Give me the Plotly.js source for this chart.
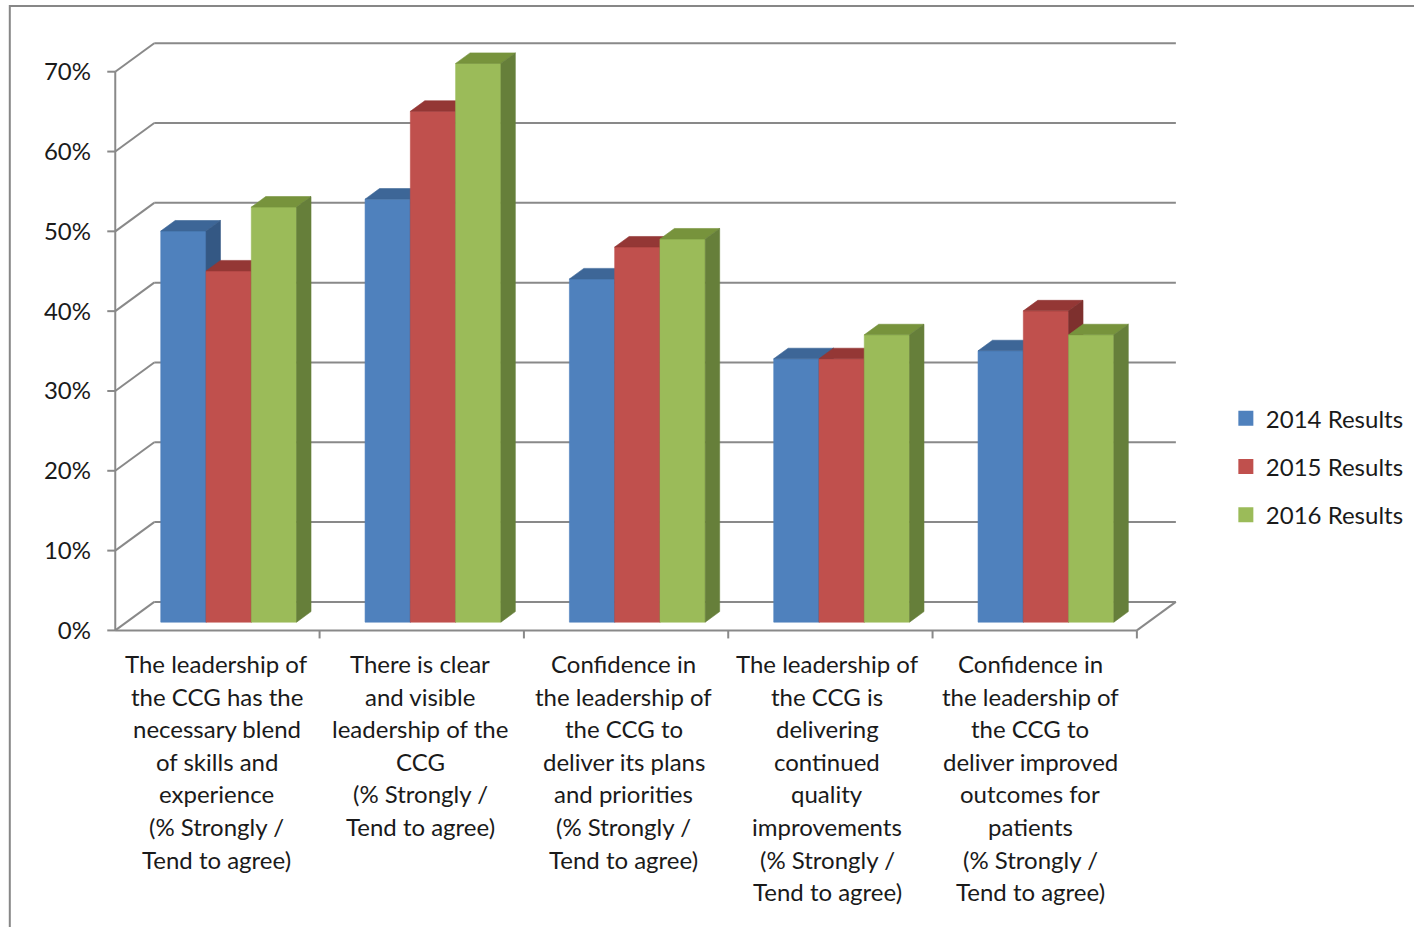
<!DOCTYPE html>
<html>
<head>
<meta charset="utf-8">
<script src="https://cdn.plot.ly/plotly-3.0.1.min.js"></script>
<style>
  html, body { margin: 0; padding: 0; background: #ffffff; }
  #chart { width: 1414px; height: 927px; }
</style>
</head>
<body>
<div id="chart"></div>
<script>
// ---- data ----
const categories = [
  "The leadership of\nthe CCG has the\nnecessary blend\nof skills and\nexperience\n(% Strongly /\nTend to agree)",
  "There is clear\nand visible\nleadership of the\nCCG\n(% Strongly /\nTend to agree)",
  "Confidence in\nthe leadership of\nthe CCG to\ndeliver its plans\nand priorities\n(% Strongly /\nTend to agree)",
  "The leadership of\nthe CCG is\ndelivering\ncontinued\nquality\nimprovements\n(% Strongly /\nTend to agree)",
  "Confidence in\nthe leadership of\nthe CCG to\ndeliver improved\noutcomes for\npatients\n(% Strongly /\nTend to agree)"
];
const seriesNames = ["2014 Results", "2015 Results", "2016 Results"];
const results2014 = [49, 53, 43, 33, 34];
const results2015 = [44, 64, 47, 33, 39];
const results2016 = [52, 70, 48, 36, 36];
const yTickValues = [0, 10, 20, 30, 40, 50, 60, 70];
const yTickLabels = ["0%", "10%", "20%", "30%", "40%", "50%", "60%", "70%"];

const seriesValues = [results2014, results2015, results2016];

// face colours per series: front, top, side
const frontColors = ["#4F81BD", "#C0504D", "#9BBB59"];
const topColors   = ["#3D6697", "#943735", "#77933C"];
const sideColors  = ["#345884", "#7E302E", "#667F3A"];

// ---- geometry of the pseudo-3D box (axis units: categories / percent) ----
const W = 1414, H = 927;
const PX_CAT = 204.4, PX_PCT = 7.976;   // pixels per category, per percent
const X0PX = 115, Y0PX = 630;          // pixel position of the front origin
const DX = 39 / PX_CAT;                // full depth of the box along x
const DY = 28.5 / PX_PCT;              // full depth of the box along y
const GAP = 0.1673, BW = 0.2216;       // side gap in a category, bar width
const F0 = 0.29, F1 = 0.66;            // bar front / back as a share of depth
const LABEL_START = 0.4966, LABEL_STEP = 0.9956;  // category label centres

const XMIN = -0.06, XMAX = 5 + DX + 0.03;
const YMIN = -1.2,  YMAX = 70 + DY + 0.4;
const ml = X0PX + XMIN * PX_CAT;
const mr = W - (X0PX + XMAX * PX_CAT);
const mt = Y0PX - YMAX * PX_PCT;
const mb = H - (Y0PX - YMIN * PX_PCT);
const pw = W - ml - mr, ph = H - mt - mb;
const plotBottomPx = H - mb;

const GRID = "#898989";
const TEXT = "#1a1a1a";
const FONT = "Lato, 'Open Sans', sans-serif";

// ---- walls, floor, axis lines and ticks ----
const gx = [], gy = [];
function seg(x1, y1, x2, y2) { gx.push(x1, x2, null); gy.push(y1, y2, null); }
yTickValues.forEach(v => {
  seg(DX, v + DY, 5 + DX, v + DY);          // back wall gridline
  seg(0, v, DX, v + DY);                    // side wall gridline
  seg(-8 / PX_CAT, v, 0, v);                // value-axis tick
});
seg(0, 0, 0, yTickValues[yTickValues.length - 1]);   // value axis
seg(0, 0, 5, 0);                                     // floor front edge
seg(5, 0, 5 + DX, DY);                               // floor right edge
for (let k = 1; k <= categories.length; k++) seg(k, 0, k, -8 / PX_PCT);  // category ticks

const traces = [{
  type: "scatter", mode: "lines", x: gx, y: gy,
  line: { color: GRID, width: 2 }, hoverinfo: "skip", showlegend: false
}];

// ---- bar faces: each series drawn front, top, side, series by series ----
const base = F0 * DY;
const ddx = (F1 - F0) * DX, ddy = (F1 - F0) * DY;
seriesValues.forEach((vals, s) => {
  const fx = [], fy = [], tx = [], ty = [], sx = [], sy = [];
  vals.forEach((v, i) => {
    const xl = i + GAP + s * BW + F0 * DX;
    const xr = xl + BW;
    const top = base + v;
    fx.push(xl, xr, xr, xl, xl, null);
    fy.push(base, base, top, top, base, null);
    tx.push(xl, xr, xr + ddx, xl + ddx, xl, null);
    ty.push(top, top, top + ddy, top + ddy, top, null);
    sx.push(xr, xr + ddx, xr + ddx, xr, xr, null);
    sy.push(base, base + ddy, top + ddy, top, base, null);
  });
  [[fx, fy, frontColors[s]], [tx, ty, topColors[s]], [sx, sy, sideColors[s]]].forEach(f => {
    traces.push({
      type: "scatter", mode: "lines", x: f[0], y: f[1],
      fill: "toself", fillcolor: f[2],
      line: { color: f[2], width: 0.6 },
      hoverinfo: "skip", showlegend: false
    });
  });
});

// ---- legend entries ----
seriesNames.forEach((name, s) => {
  traces.push({
    type: "scatter", mode: "markers", x: [null], y: [null], name: name,
    legendgroup: name,
    marker: { symbol: "square", size: 15, color: frontColors[s] },
    hoverinfo: "skip"
  });
});

// ---- category labels, one line at a time ----
const LINE_GAP = 32.6, FIRST_LINE = 663;
const annotations = [];
categories.forEach((label, i) => {
  label.split("\n").forEach((line, j) => {
    annotations.push({
      xref: "x", yref: "paper", x: LABEL_START + i * LABEL_STEP, y: 0,
      xanchor: "center", yanchor: "middle",
      yshift: -(FIRST_LINE + j * LINE_GAP - plotBottomPx),
      text: line, showarrow: false,
      font: { family: FONT, size: 24, color: TEXT }
    });
  });
});

const layout = {
  width: W, height: H,
  margin: { l: ml, r: mr, t: mt, b: mb, pad: 0, autoexpand: false },
  paper_bgcolor: "#ffffff", plot_bgcolor: "rgba(0,0,0,0)",
  showlegend: true,
  legend: {
    x: (1226 - ml) / pw, xanchor: "left",
    y: (plotBottomPx - 396) / ph, yanchor: "top",
    font: { family: FONT, size: 24, color: TEXT },
    tracegroupgap: 14, bgcolor: "rgba(0,0,0,0)", borderwidth: 0
  },
  xaxis: {
    range: [XMIN, XMAX], visible: false, fixedrange: true
  },
  yaxis: {
    range: [YMIN, YMAX], tickvals: yTickValues, ticktext: yTickLabels,
    ticks: "", showgrid: false, zeroline: false, showline: false,
    tickfont: { family: FONT, size: 24, color: TEXT },
    ticklabelstandoff: 11, fixedrange: true
  },
  annotations: annotations,
  shapes: [{
    type: "rect", xref: "paper", yref: "paper", layer: "above",
    x0: (9.5 - ml) / pw, x1: (W + 10 - ml) / pw,
    y0: (plotBottomPx - 6) / ph, y1: (plotBottomPx - H - 10) / ph,
    line: { color: "#878787", width: 2 }, fillcolor: "rgba(0,0,0,0)"
  }],
  font: { family: FONT }
};

Plotly.newPlot("chart", traces, layout, { displayModeBar: false, staticPlot: true });
</script>
</body>
</html>
